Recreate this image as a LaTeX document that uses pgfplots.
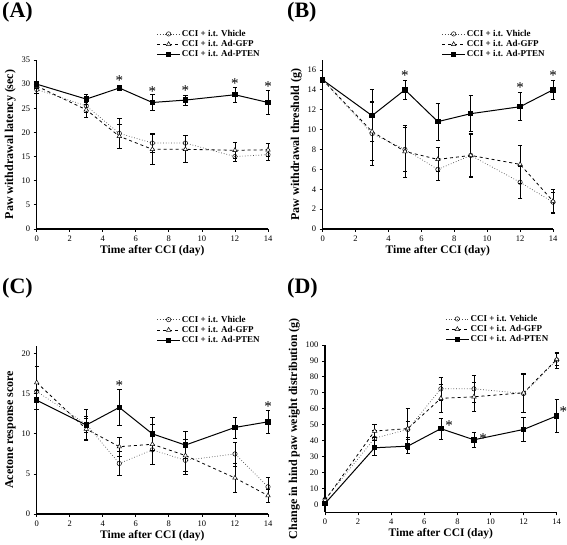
\documentclass[border=0pt]{standalone}
\usepackage{fontspec}
\setmainfont{Liberation Serif}
\usepackage{pgfplots}
\pgfplotsset{compat=1.18}

\pgfplotsset{
 panel/.style={
  scale only axis, anchor=south west, clip=false,
  axis lines=left, axis line style={-, line width=1.1pt},
  xmin=0, xmax=14, xtick={0,2,...,14},
  tick align=outside, major tick length=3pt, tick style={black, line width=0.8pt},
  /pgf/number format/assume math mode=true,
  tick label style={font=\fontsize{8.5}{9}\selectfont},
  ylabel style={font=\fontsize{12}{12}\selectfont\bfseries, yshift=-1pt},
  xlabel style={font=\fontsize{11.5}{12}\selectfont\bfseries, yshift=3pt},
  xlabel={Time after CCI (day)},
  legend style={draw=none, fill=none, at={(0.97,1.0)}, anchor=south east,
    font=\fontsize{9}{9}\selectfont\bfseries, cells={anchor=west},
    row sep=0pt, inner sep=0pt, nodes={inner sep=1.3pt}},
  legend image code/.code={\draw[mark repeat=2,mark phase=2,#1] plot coordinates {(0pt,0pt)(11.5pt,0pt)(23pt,0pt)};},
 },
 eb/.style={error bars/.cd, y dir=both, y explicit,
   error bar style={solid, black, line width=0.7pt},
   error mark options={solid, black, mark size=2.2pt, line width=0.7pt, rotate=90}},
 veh/.style={gray!60!black, dotted, line width=0.7pt, mark=o, mark size=2.2pt,
   mark options={solid, black, fill=white, line width=0.5pt}},
 gfp/.style={black, dashed, line width=0.8pt, mark=triangle*, mark size=2.6pt,
   mark options={solid, black, fill=white, line width=0.5pt}},
 pten/.style={black, solid, line width=1.0pt, mark=square*, mark size=2.2pt,
   mark options={solid, black, fill=black}},
}
\tikzset{
 star/.style={font=\fontsize{15}{15}\selectfont, inner sep=0pt, yshift=-3pt},
 plab/.style={anchor=north west, inner sep=0pt, font=\fontsize{22}{22}\selectfont\bfseries},
}

\begin{document}
\begin{tikzpicture}[x=1pt,y=1pt]
\path[use as bounding box] (0,0) rectangle (567,545);
\node[plab] at (2,543) {(A)};
\node[plab] at (287,543) {(B)};
\node[plab] at (2,267) {(C)};
\node[plab] at (287,267) {(D)};

% ---------------- (A)
\begin{axis}[panel, at={(36.7pt,316pt)}, width=231.3pt, height=169pt,
  ymin=0, ymax=35, ytick={0,5,...,35},
  ylabel={Paw withdrawal latency (sec)}]
\addplot[veh, eb] table[y error index=2] {
x y e
0 28.9 0.8
3 25.5 1.3
5 19.8 3.1
7 17.8 2.0
9 17.8 1.5
12 15.0 1.0
14 15.4 1.1
};
\addlegendentry{CCI + i.t. Vhicle}
\addplot[gfp, eb] table[y error index=2] {
x y e
0 29.6 0.5
3 24.7 1.6
5 19.2 2.5
7 16.5 3.2
9 16.5 2.8
12 16.3 1.6
14 16.4 1.3
};
\addlegendentry{CCI + i.t. Ad-GFP}
\addplot[pten, eb] table[y error index=2] {
x y e
0 30.0 0.6
3 26.9 1.0
5 29.2 0.5
7 26.2 1.6
9 26.7 1.0
12 27.8 1.6
14 26.2 2.5
};
\addlegendentry{CCI + i.t. Ad-PTEN}
\node[star] at (axis cs:5,31.4) {*};
\node[star] at (axis cs:7,29.0) {*};
\node[star] at (axis cs:9,29.3) {*};
\node[star] at (axis cs:12,30.8) {*};
\node[star] at (axis cs:14,30.2) {*};
\end{axis}

% ---------------- (B)
\begin{axis}[panel, at={(322.7pt,316pt)}, width=230.3pt, height=169pt,
  ymin=0, ymax=17, ytick={0,2,...,16},
  ylabel={Paw withdrawal threshold (g)}]
\addplot[veh, eb] table[y error index=2] {
x y e
0 15.0 0
3 9.6 3.2
5 8.0 2.2
7 6.0 1.1
9 7.4 2.1
12 4.7 1.6
14 2.7 1.0
};
\addlegendentry{CCI + i.t. Vhicle}
\addplot[gfp, eb] table[y error index=2] {
x y e
0 15.0 0
3 9.8 2.9
5 7.8 2.6
7 7.0 1.2
9 7.4 2.2
12 6.5 1.9
14 2.8 1.2
};
\addlegendentry{CCI + i.t. Ad-GFP}
\addplot[pten, eb] table[y error index=2] {
x y e
0 15.0 0
3 11.4 2.6
5 14.0 1.0
7 10.8 1.85
9 11.6 1.8
12 12.3 1.4
14 14.0 1.0
};
\addlegendentry{CCI + i.t. Ad-PTEN}
\node[star] at (axis cs:5,15.7) {*};
\node[star] at (axis cs:12,14.5) {*};
\node[star] at (axis cs:14,15.7) {*};
\end{axis}

% ---------------- (C)
\begin{axis}[panel, at={(36.7pt,31pt)}, width=231.3pt, height=168.3pt,
  ymin=0, ymax=21, ytick={0,5,...,20},
  ylabel={Acetone response score}]
\addplot[veh, eb] table[y error index=2] {
x y e
0 15.3 1.0
3 11.2 1.0
5 6.3 1.5
7 8.0 1.8
9 6.7 1.8
12 7.5 1.5
14 3.4 1.2
};
\addlegendentry{CCI + i.t. Vhicle}
\addplot[gfp, eb] table[y error index=2] {
x y e
0 16.4 2.0
3 10.6 1.3
5 8.4 1.2
7 8.7 2.5
9 7.3 2.0
12 4.5 1.8
14 2.3 0.8
};
\addlegendentry{CCI + i.t. Ad-GFP}
\addplot[pten, eb] table[y error index=2] {
x y e
0 14.2 1.2
3 11.1 1.9
5 13.3 2.2
7 10.0 2.0
9 8.6 1.7
12 10.8 1.3
14 11.5 1.4
};
\addlegendentry{CCI + i.t. Ad-PTEN}
\node[star] at (axis cs:5,16.4) {*};
\node[star] at (axis cs:14,13.8) {*};
\end{axis}

% ---------------- (D)
\begin{axis}[panel, at={(325pt,32.7pt)}, width=231.7pt, height=167.3pt,
  ymin=-5, ymax=100, ytick={0,10,...,100},
  ylabel={Change in hind paw weight distribution (g)}]
\addplot[veh, eb] table[y error index=2] {
x y e
0 3.0 1
3 41.5 5
5 47.0 5
7 72.5 7.5
9 72.5 8.5
12 69.5 12
14 90.5 5
};
\addlegendentry{CCI + i.t. Vehicle}
\addplot[gfp, eb] table[y error index=2] {
x y e
0 2.5 1
3 46.0 4
5 47.5 13
7 66.5 9
9 67.5 9
12 70.0 12
14 91.0 4
};
\addlegendentry{CCI + i.t. Ad-GFP}
\addplot[pten, eb] table[y error index=2] {
x y e
0 0.5 0
3 35.5 4.5
5 36.5 4.5
7 47.5 6.5
9 40.5 4.5
12 47.0 7.5
14 55.5 10.5
};
\addlegendentry{CCI + i.t. Ad-PTEN}
\node[star] at (axis cs:7.5,51) {*};
\node[star] at (axis cs:9.55,43) {*};
\node[star] at (axis cs:14.4,60) {*};
\end{axis}
\end{tikzpicture}
\end{document}
